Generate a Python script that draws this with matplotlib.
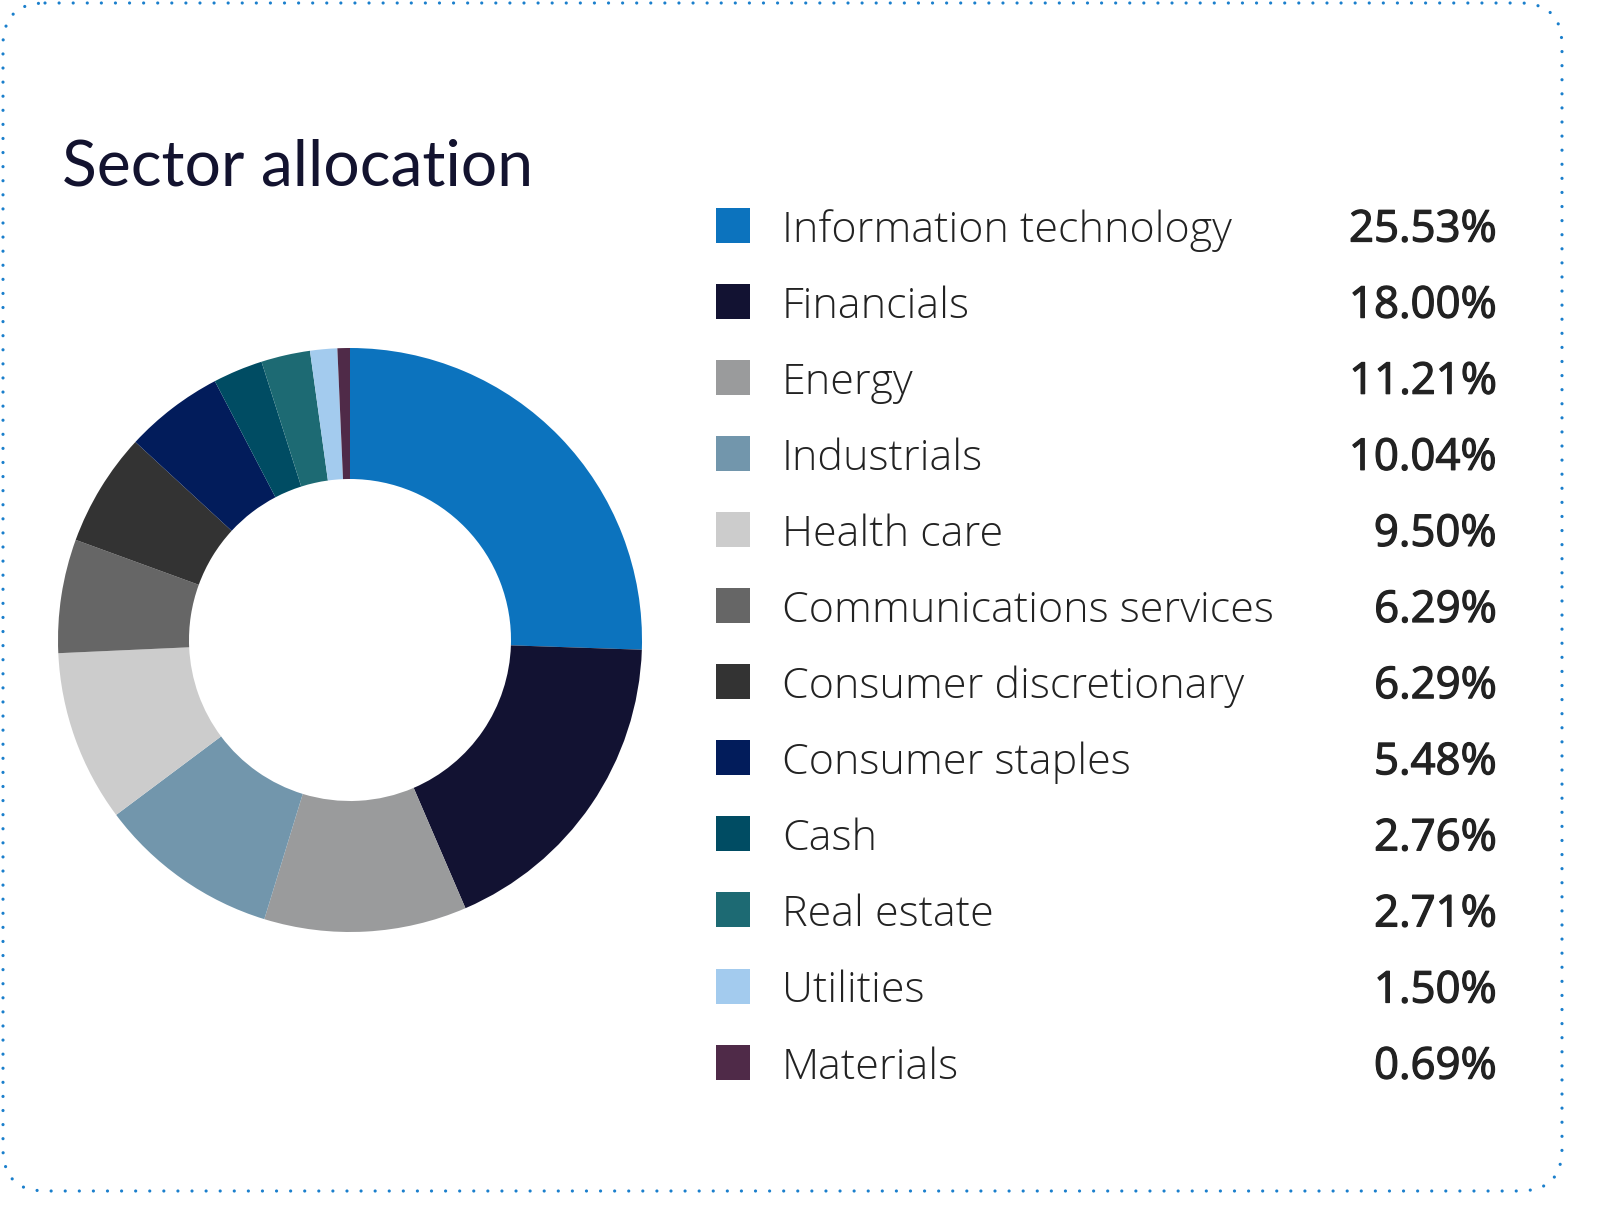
import matplotlib
matplotlib.use('Agg')
import matplotlib.pyplot as plt
import matplotlib.patheffects as pe
from matplotlib.patches import Rectangle, FancyBboxPatch

sectors = ['Information technology', 'Financials', 'Energy', 'Industrials', 'Health care',
           'Communications services', 'Consumer discretionary', 'Consumer staples', 'Cash',
           'Real estate', 'Utilities', 'Materials']
weights = [25.53, 18.00, 11.21, 10.04, 9.50, 6.29, 6.29, 5.48, 2.76, 2.71, 1.50, 0.69]
colors = ['#0c73be', '#121232', '#9a9b9c', '#7296ac', '#cccccc', '#666666', '#333333',
          '#021c5b', '#004c63', '#1d6a73', '#a3cbee', '#4f2a48']

W, H = 1597, 1217
fig = plt.figure(figsize=(W / 100, H / 100), dpi=100)

# background / frame axes in pixel coords
bg = fig.add_axes([0, 0, 1, 1])
bg.set_xlim(0, W)
bg.set_ylim(H, 0)
bg.axis('off')

frame = FancyBboxPatch((3, 3), 1559, 1188, boxstyle='round,pad=0,rounding_size=42',
                       fill=False, edgecolor='#1a7fcc', linewidth=2.3,
                       linestyle=(0, (0.01, 4.4)))
frame.set_capstyle('round')
bg.add_patch(frame)

bg.text(62, 186, 'Sector allocation', fontsize=46.3, family='Lato', color='#13132f',
        va='baseline', ha='left')

# legend rows
y0, step = 225, 76.1
semi = [pe.withStroke(linewidth=0.9, foreground='#222222')]
for i, (name, val, c) in enumerate(zip(sectors, weights, colors)):
    yc = y0 + i * step
    bg.add_patch(Rectangle((716, yc - 17.5), 34, 35, color=c, lw=0))
    bg.text(782, yc + 16.5, name, fontsize=31, family='Open Sans', weight='light',
            color='#222222', va='baseline', ha='left')
    bg.text(1497, yc + 16.5, '%.2f%%' % val, fontsize=31.5, family='Open Sans',
            weight='normal', color='#222222', va='baseline', ha='right',
            path_effects=semi)

# donut
cx, cy, r, ri = 350, 640, 292, 161
ax = fig.add_axes([(cx - r) / W, 1 - (cy + r) / H, 2 * r / W, 2 * r / H])
ax.pie(weights, colors=colors, startangle=90, counterclock=False, radius=1,
       wedgeprops=dict(width=(r - ri) / r, linewidth=0))
ax.set_xlim(-1, 1)
ax.set_ylim(-1, 1)
ax.axis('off')

fig.savefig('out.png', dpi=100)
